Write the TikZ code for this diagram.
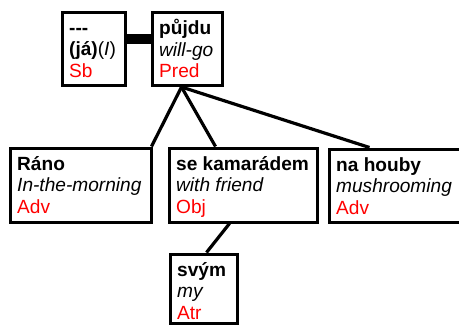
\documentclass[tikz,border=0pt]{standalone}
\usepackage{fontspec}
\setmainfont{Liberation Sans}
\usetikzlibrary{calc}
\definecolor{fnred}{RGB}{255,0,0}
\tikzset{
  box/.style={draw=black, line width=3pt, fill=white, rectangle, anchor=north west, inner sep=0pt},
  label/.style={anchor=north west, inner sep=0pt, align=left, font=\fontsize{19.1}{21.5}\selectfont},
  link/.style={draw=black, line width=3.2pt},
}
\newcommand{\fn}[1]{\textcolor{fnred}{#1}}
\begin{document}
\begin{tikzpicture}[x=1pt, y=-1pt]
\useasboundingbox (0,0) rectangle (459,327);

% word boxes
\node (sb)    [box, minimum width=63,  minimum height=73] at (60.5,10.5) {};
\node (pred)  [box, minimum width=70,  minimum height=73] at (150.5,10.5) {};
\node (rano)  [box, minimum width=141, minimum height=74] at (8.5,146.5) {};
\node (obj)   [box, minimum width=148, minimum height=74] at (167.5,146.5) {};
\node (houby) [box, minimum width=150, minimum height=73] at (327.5,147.5) {};
\node (svym)  [box, minimum width=67,  minimum height=69] at (168.5,252.5) {};

% word texts: form, gloss, function
\node (tsb)    [label] at (69,19)   {\strut\textbf{-{}-{}-}\\\textbf{(já)}(\textit{I})\\\fn{Sb}};
\node (tpred)  [label] at (159,19)  {\strut\textbf{půjdu}\\\textit{will-go}\\\fn{Pred}};
\node (trano)  [label] at (17,155)  {\strut\textbf{Ráno}\\\textit{In-the-morning}\\\fn{Adv}};
\node (tobj)   [label] at (176,155) {\strut\textbf{se kamarádem}\\\textit{with friend}\\\fn{Obj}};
\node (thouby) [label] at (336,156) {\strut\textbf{na houby}\\\textit{mushrooming}\\\fn{Adv}};
\node (tsvym)  [label] at (177,261) {\strut\textbf{svým}\\\textit{my}\\\fn{Atr}};

% coreference link between subject and predicate
\draw[line width=10pt] ([yshift=10pt]sb.east) -- ([yshift=10pt]pred.west);

% dependency edges
\coordinate (root) at ([xshift=-5.5pt, yshift=-0.5pt]pred.south);
\draw[link] (root) -- ([xshift=-1pt]rano.north east);
\draw[link] (root) -- ([xshift=48pt]obj.north west);
\draw[link] (root) -- ([xshift=42pt]houby.north west);
\draw[link] ([xshift=62pt]obj.south west) -- ([xshift=38pt]svym.north west);
\end{tikzpicture}
\end{document}
